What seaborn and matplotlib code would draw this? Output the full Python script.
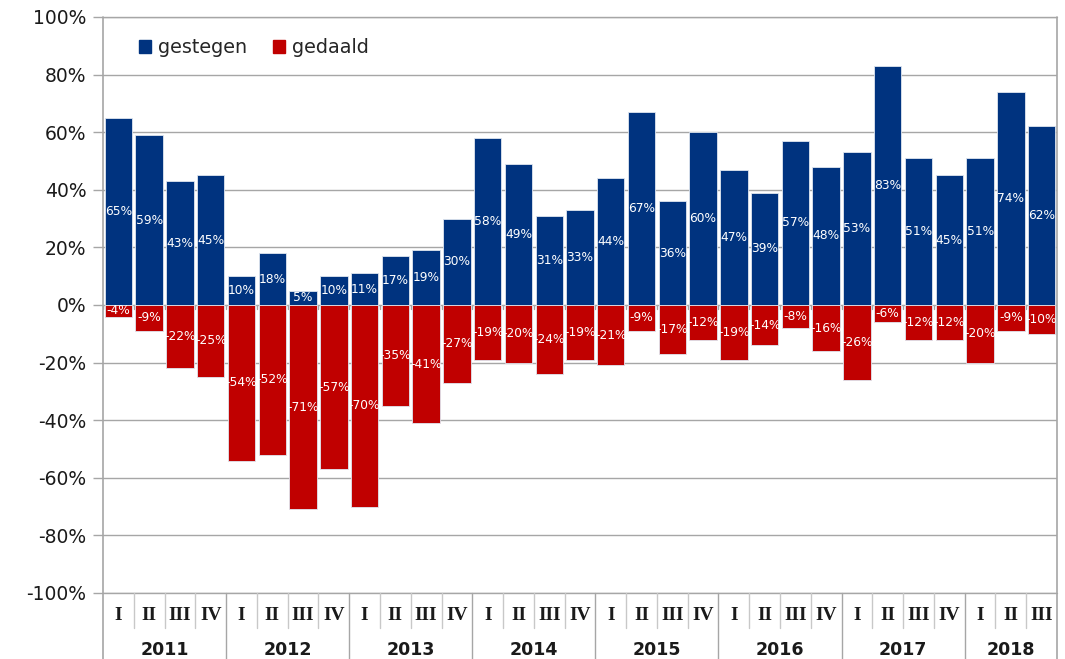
import numpy as np
import pandas as pd
import matplotlib
matplotlib.use("Agg")
import matplotlib.pyplot as plt
import seaborn as sns
from matplotlib.transforms import blended_transform_factory
from matplotlib.patches import Patch

years = ["2011", "2012", "2013", "2014", "2015", "2016", "2017", "2018"]
quarters = ["I", "II", "III", "IV"]
gestegen = [65, 59, 43, 45, 10, 18, 5, 10, 11, 17, 19, 30, 58, 49, 31, 33,
            44, 67, 36, 60, 47, 39, 57, 48, 53, 83, 51, 45, 51, 74, 62]
gedaald = [-4, -9, -22, -25, -54, -52, -71, -57, -70, -35, -41, -27, -19, -20, -24, -19,
           -21, -9, -17, -12, -19, -14, -8, -16, -26, -6, -12, -12, -20, -9, -10]
yticks = [-100, -80, -60, -40, -20, 0, 20, 40, 60, 80, 100]

n = len(gestegen)
periods = [(y, q) for y in years for q in quarters][:n]
labels = [f"{y} {q}" for y, q in periods]

df = pd.DataFrame({
    "periode": labels * 2,
    "reeks": ["gestegen"] * n + ["gedaald"] * n,
    "waarde": gestegen + gedaald,
})

BLUE = "#00337f"
RED = "#c00000"
GRID = "#a6a6a6"

sns.set_theme(style="white")
plt.rcParams["font.family"] = ["DejaVu Sans"]

fig = plt.figure(figsize=(10.65, 6.59), dpi=100)
ax = fig.add_axes([103 / 1065, 1 - 593 / 659, (1057 - 103) / 1065, (593 - 17) / 659])

sns.barplot(data=df, x="periode", y="waarde", hue="reeks", order=labels,
            hue_order=["gestegen", "gedaald"], palette=[BLUE, RED], saturation=1,
            dodge=False, width=0.89, ax=ax, legend=False,
            edgecolor="#dfe6f0", linewidth=0.6, zorder=3)

for cont in ax.containers:
    ax.bar_label(cont, labels=[f"{v:.0f}%" for v in cont.datavalues],
                 label_type="center", color="white", fontsize=8.8, zorder=5)

ax.set_xlim(-0.5, n - 0.5)
ax.set_ylim(-100, 100)
ax.set_yticks(yticks)
ax.set_yticklabels([f"{v}%" for v in yticks], fontsize=13.5, color="#1a1a1a")
ax.yaxis.grid(True, color=GRID, linewidth=1.0, zorder=0)
ax.set_axisbelow(True)
ax.tick_params(axis="y", direction="out", length=7, color=GRID, width=1, pad=5, left=True)
ax.set_xticks([])
ax.set_xlabel("")
ax.set_ylabel("")
for s in ["top", "bottom", "left", "right"]:
    ax.spines[s].set_visible(False)

# edge gridlines (-100% and 100%) drawn unclipped
for yv in [-100, 100]:
    ax.axhline(yv, color=GRID, lw=1.0, clip_on=False, zorder=1)

# small category ticks at the zero line
for b in np.arange(-0.5, n, 1.0):
    ax.plot([b, b], [0, -1.5], color=GRID, lw=1, zorder=1)

tr = blended_transform_factory(ax.transData, ax.transAxes)
ax_h = 593 - 17
q_y = -23 / ax_h
y_y = -57 / ax_h
q_bot = -35 / ax_h
y_bot = -66 / ax_h

# outer vertical borders (full height)
for b in [-0.5, n - 0.5]:
    ax.plot([b, b], [y_bot, 1.0], transform=tr, color=GRID, lw=1.2, clip_on=False, zorder=6)

# quarter labels
for i, (y, q) in enumerate(periods):
    ax.text(i, q_y, q, transform=tr, ha="center", va="center",
            fontsize=14, fontweight="bold", family="Liberation Serif", color="#1a1a1a")

# separators
for i in range(1, n):
    b = i - 0.5
    if periods[i][1] == "I":
        ax.plot([b, b], [0, y_bot], transform=tr, color=GRID, lw=1.0, clip_on=False)
    else:
        ax.plot([b, b], [0, q_bot], transform=tr, color="#c8c8c8", lw=1.0, clip_on=False)

# year labels
for y in years:
    idx = [i for i, p in enumerate(periods) if p[0] == y]
    ax.text(np.mean(idx), y_y, y, transform=tr, ha="center", va="center",
            fontsize=12.5, fontweight="bold", family="DejaVu Sans", color="#1a1a1a")

handles = [Patch(facecolor=BLUE, edgecolor=BLUE), Patch(facecolor=RED, edgecolor=RED)]
ax.legend(handles, ["gestegen", "gedaald"], loc="upper left", bbox_to_anchor=(0.02, 0.993),
          ncol=2, frameon=False, fontsize=13.8, handlelength=0.6, handleheight=0.6,
          handletextpad=0.35, columnspacing=1.4)

fig.savefig("out.png", dpi=100)
